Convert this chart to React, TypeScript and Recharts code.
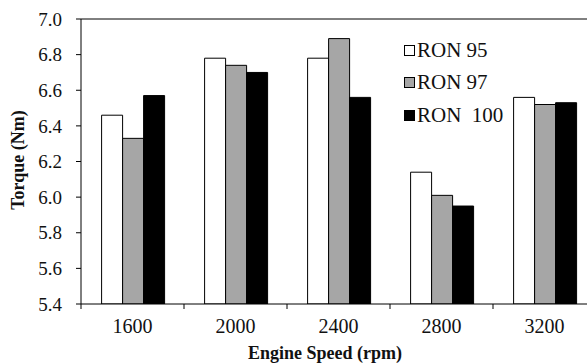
import { BarChart, Bar, XAxis, YAxis, ReferenceLine } from 'recharts';

const speeds = ['1600', '2000', '2400', '2800', '3200'];
const ron95 = [6.46, 6.78, 6.78, 6.14, 6.56];
const ron97 = [6.33, 6.74, 6.89, 6.01, 6.52];
const ron100 = [6.57, 6.7, 6.56, 5.95, 6.53];
const yTicks = [5.4, 5.6, 5.8, 6.0, 6.2, 6.4, 6.6, 6.8, 7.0];

const series = [
  { key: 'ron95', label: 'RON 95', fill: '#ffffff' },
  { key: 'ron97', label: 'RON 97', fill: '#a6a6a6' },
  { key: 'ron100', label: 'RON  100', fill: '#000000' },
];

const data = speeds.map((s, i) => ({ speed: s, ron95: ron95[i], ron97: ron97[i], ron100: ron100[i] }));

const font = "'Liberation Serif', 'Times New Roman', serif";

function SpeedTick(props: any) {
  const { x, y, payload, width, visibleTicksCount } = props;
  const half = payload.offset || width / visibleTicksCount / 2;
  return (
    <g>
      <line x1={x - half} x2={x - half} y1={y} y2={y + 5} stroke="#000" />
      {payload.index === visibleTicksCount - 1 && (
        <line x1={x + half} x2={x + half} y1={y} y2={y + 5} stroke="#000" />
      )}
      <text x={x} y={y + 29} textAnchor="middle" fontFamily={font} fontSize={20} fill="#111">
        {payload.value}
      </text>
    </g>
  );
}

export default function App() {
  return (
    <div style={{ position: 'absolute', left: 0, top: 0, width: 587, height: 364, overflow: 'hidden', background: '#fff' }}>
      <BarChart
        width={610}
        height={364}
        data={data}
        margin={{ top: 19, right: 14, left: 0, bottom: 0 }}
        barCategoryGap="20%"
        barGap={0}
      >
        <XAxis
          dataKey="speed"
          height={60}
          tickLine={false}
          tickSize={0}
          tickMargin={0}
          axisLine={{ stroke: '#000' }}
          tick={<SpeedTick />}
          interval={0}
        />
        <YAxis
          width={81}
          domain={[5.4, 7.0]}
          ticks={yTicks}
          allowDataOverflow
          tickFormatter={(v: number) => v.toFixed(1)}
          tickSize={5}
          tickMargin={14}
          tickLine={{ stroke: '#000' }}
          axisLine={{ stroke: '#000' }}
          tick={{ fontFamily: font, fontSize: 19, fill: '#111' }}
        />
        <ReferenceLine y={7.0} stroke="#000" />
        {series.map((s) => (
          <Bar key={s.key} dataKey={s.key} fill={s.fill} stroke="#000" strokeWidth={1} isAnimationActive={false} />
        ))}
      </BarChart>
      <div
        style={{
          position: 'absolute',
          left: 18,
          top: 160,
          transform: 'translate(-50%, -50%) rotate(-90deg)',
          fontFamily: font,
          fontWeight: 'bold',
          fontSize: 18,
          whiteSpace: 'nowrap',
          color: '#111',
        }}
      >
        Torque (Nm)
      </div>
      <div
        style={{
          position: 'absolute',
          left: 325,
          top: 353,
          transform: 'translate(-50%, -50%)',
          fontFamily: font,
          fontWeight: 'bold',
          fontSize: 18,
          whiteSpace: 'nowrap',
          color: '#111',
        }}
      >
        Engine Speed (rpm)
      </div>
      <div style={{ position: 'absolute', left: 404, top: 34 }}>
        {series.map((s) => (
          <div key={s.key} style={{ display: 'flex', alignItems: 'center', height: 32.5, fontFamily: font, fontSize: 21, color: '#111', whiteSpace: 'pre' }}>
            <span style={{ display: 'inline-block', width: 9, height: 9, background: s.fill, border: '1px solid #000', marginRight: 2 }} />
            {s.label}
          </div>
        ))}
      </div>
    </div>
  );
}
